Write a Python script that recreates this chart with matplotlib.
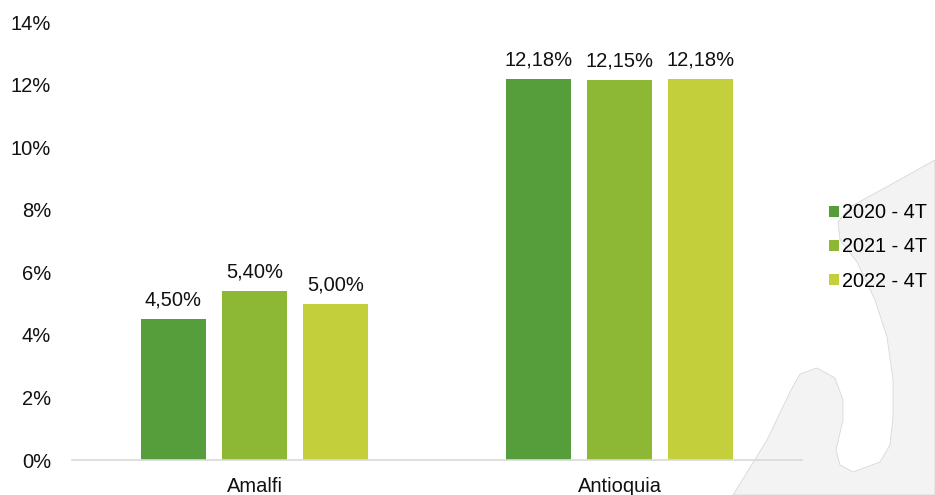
import matplotlib
matplotlib.use("Agg")

import matplotlib.pyplot as plt
import numpy as np
from matplotlib.patches import Polygon
from matplotlib.ticker import FuncFormatter

# --- Data ---
categories = ["Amalfi", "Antioquia"]
series_names = ["2020 - 4T", "2021 - 4T", "2022 - 4T"]
values = {
    "2020 - 4T": [4.50, 12.18],
    "2021 - 4T": [5.40, 12.15],
    "2022 - 4T": [5.00, 12.18],
}
colors = ["#559e3b", "#8cb836", "#c3d03c"]

plt.rcParams["font.family"] = ["Liberation Sans", "DejaVu Sans"]
FS = 14.5

fig = plt.figure(figsize=(9.35, 4.95), dpi=100)

# decorative background shape (figure pixel coords)
shape = [(935, 160), (890, 185), (850, 207), (838, 222), (840, 240), (857, 262),
         (875, 300), (887, 337), (893, 380), (893, 417), (890, 445), (880, 462),
         (853, 472), (840, 465), (836, 450), (843, 420), (843, 400), (835, 378),
         (817, 368), (800, 374), (790, 392), (767, 440), (733, 495), (935, 495)]
shape = [(x / 935, 1 - y / 495) for x, y in shape]
fig.patches.append(Polygon(shape, closed=True, transform=fig.transFigure,
                           facecolor="#f3f3f3", edgecolor="#d8d8d8", lw=0.6, zorder=-1))

ax = fig.add_axes([72 / 935, 35 / 495, 730 / 935, 438 / 495])
ax.patch.set_alpha(0)

x = np.arange(len(categories))
width = 0.178
step = 0.222
for k, name in enumerate(series_names):
    pos = x + (k - 1) * step
    bars = ax.bar(pos, values[name], width=width, color=colors[k], label=name, zorder=2)
    for b, v in zip(bars, values[name]):
        ax.text(b.get_x() + b.get_width() / 2, v + 0.3, f"{v:.2f}%".replace(".", ","),
                ha="center", va="bottom", fontsize=FS, color="#111111")

ax.set_xlim(-0.5, 1.5)
ax.set_ylim(0, 14)
ax.set_yticks(np.arange(0, 15, 2))
ax.yaxis.set_major_formatter(FuncFormatter(lambda v, p: f"{v:.0f}%"))
ax.set_xticks(x)
ax.set_xticklabels(categories)
ax.tick_params(axis="both", length=0, labelsize=FS, colors="#111111")
ax.tick_params(axis="y", pad=15)
ax.tick_params(axis="x", pad=12)

for s in ["top", "right", "left"]:
    ax.spines[s].set_visible(False)
ax.spines["bottom"].set_color("#d9d9d9")
ax.spines["bottom"].set_linewidth(1.2)

leg = fig.legend(loc="center left", bbox_to_anchor=(819 / 935, 1 - 247 / 495),
                 frameon=False, fontsize=14.3, handlelength=0.5, handleheight=0.5,
                 handletextpad=0.18, labelspacing=0.76, borderpad=0)

fig.savefig("out.png", dpi=100)
